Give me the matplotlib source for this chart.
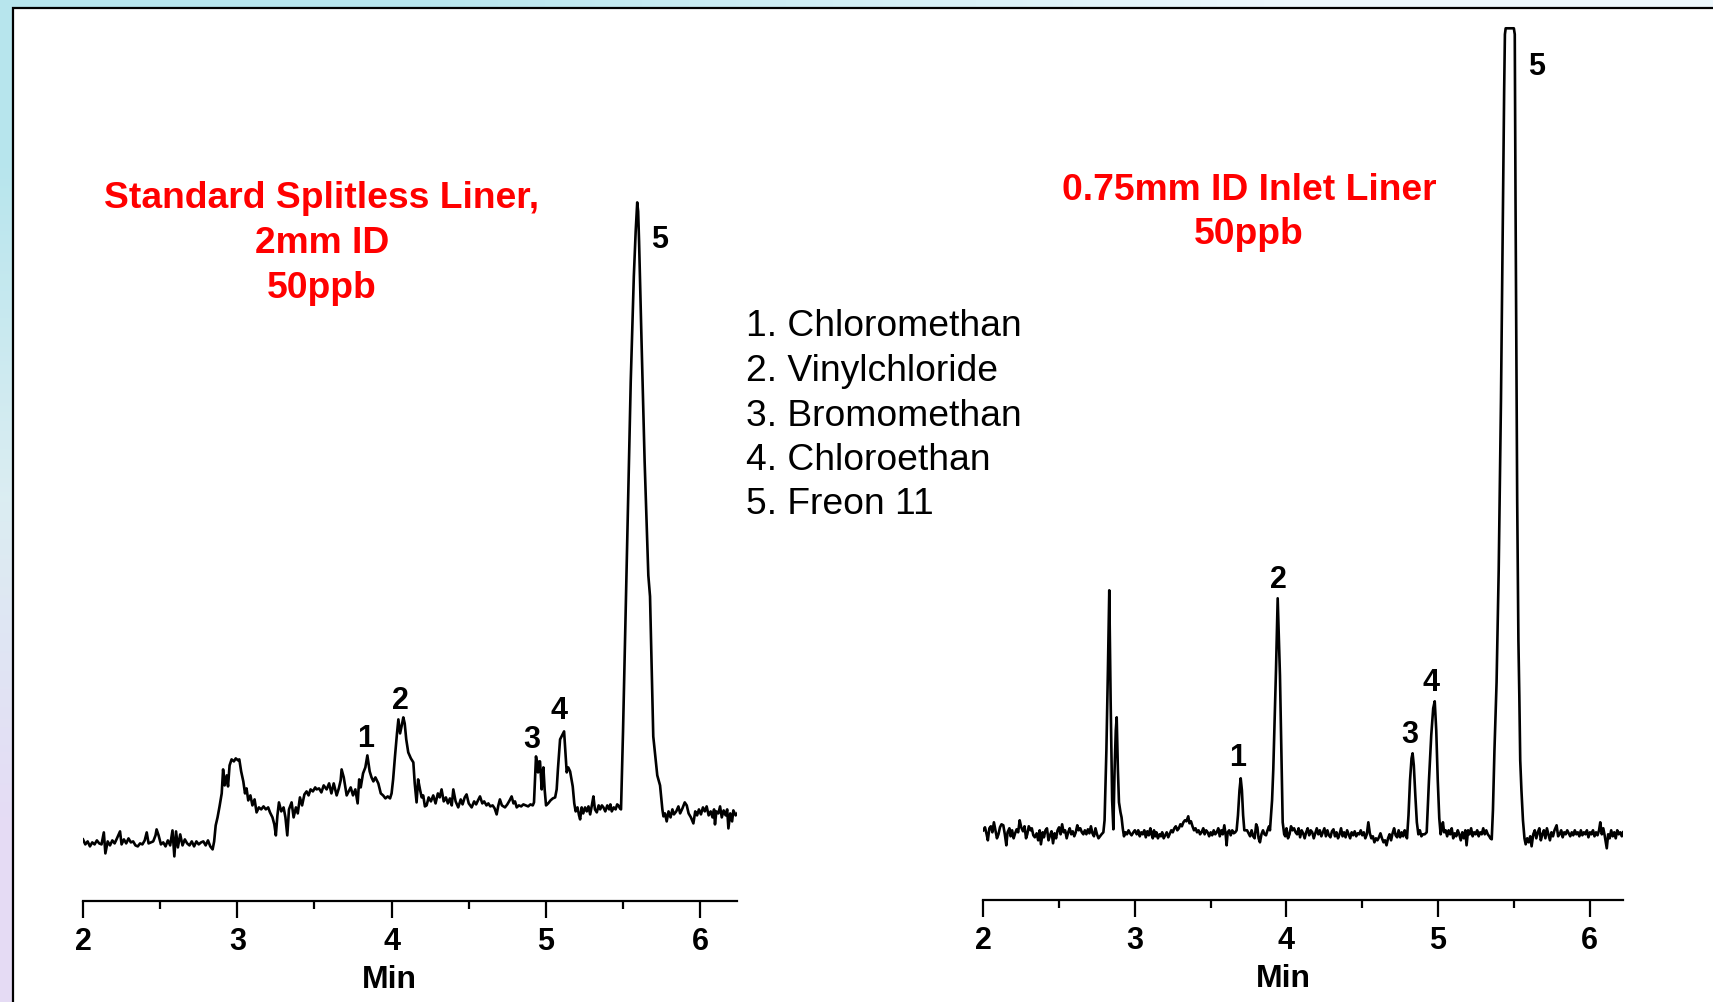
import numpy as np
import matplotlib
matplotlib.use("Agg")
import matplotlib.pyplot as plt
from matplotlib import font_manager
from matplotlib.patches import Rectangle

# ---- data (time in min, detector signal in arbitrary units) ----
left_time = [
    2.000, 2.015, 2.030, 2.045, 2.060, 2.075, 2.090, 2.105, 2.120, 2.135, 2.145, 2.160, 2.175, 2.190,
    2.205, 2.220, 2.240, 2.250, 2.265, 2.280, 2.295, 2.310, 2.325, 2.340, 2.355, 2.370, 2.385, 2.400,
    2.413, 2.425, 2.440, 2.455, 2.470, 2.477, 2.490, 2.505, 2.520, 2.535, 2.550, 2.565, 2.580, 2.592,
    2.603, 2.615, 2.630, 2.645, 2.660, 2.675, 2.690, 2.705, 2.720, 2.735, 2.750, 2.765, 2.780, 2.795,
    2.810, 2.825, 2.840, 2.850, 2.860, 2.872, 2.885, 2.899, 2.908, 2.918, 2.931, 2.940, 2.950, 2.963,
    2.978, 2.990, 3.005, 3.013, 3.025, 3.039, 3.050, 3.060, 3.071, 3.085, 3.098, 3.112, 3.125, 3.140,
    3.155, 3.170, 3.185, 3.200, 3.212, 3.228, 3.240, 3.250, 3.260, 3.270, 3.285, 3.300, 3.312, 3.324,
    3.335, 3.352, 3.365, 3.380, 3.392, 3.406, 3.420, 3.435, 3.449, 3.462, 3.475, 3.490, 3.505, 3.514,
    3.530, 3.545, 3.560, 3.579, 3.595, 3.610, 3.625, 3.644, 3.658, 3.670, 3.676, 3.690, 3.709, 3.722,
    3.735, 3.750, 3.765, 3.780, 3.790, 3.800, 3.815, 3.830, 3.843, 3.858, 3.870, 3.882, 3.895, 3.914,
    3.930, 3.945, 3.960, 3.975, 3.990, 4.000, 4.010, 4.022, 4.035, 4.044, 4.055, 4.066, 4.076, 4.085,
    4.095, 4.108, 4.125, 4.141, 4.150, 4.162, 4.172, 4.184, 4.195, 4.205, 4.216, 4.227, 4.240, 4.255,
    4.270, 4.285, 4.300, 4.312, 4.324, 4.338, 4.352, 4.365, 4.378, 4.390, 4.400, 4.415, 4.432, 4.448,
    4.460, 4.474, 4.486, 4.500, 4.519, 4.535, 4.548, 4.560, 4.573, 4.588, 4.600, 4.615, 4.627, 4.640,
    4.655, 4.668, 4.681, 4.692, 4.702, 4.715, 4.735, 4.750, 4.765, 4.778, 4.790, 4.800, 4.811, 4.825,
    4.840, 4.854, 4.870, 4.885, 4.900, 4.915, 4.923, 4.930, 4.936, 4.943, 4.949, 4.956, 4.962, 4.968,
    4.973, 4.978, 4.984, 4.992, 5.001, 5.015, 5.030, 5.045, 5.060, 5.070, 5.078, 5.092, 5.105, 5.118,
    5.126, 5.135, 5.145, 5.157, 5.166, 5.174, 5.184, 5.193, 5.205, 5.215, 5.222, 5.232, 5.242, 5.254,
    5.265, 5.276, 5.287, 5.298, 5.308, 5.318, 5.330, 5.342, 5.352, 5.363, 5.373, 5.385, 5.398, 5.410,
    5.418, 5.427, 5.440, 5.452, 5.462, 5.470, 5.480, 5.487, 5.500, 5.525, 5.550, 5.570, 5.582, 5.592,
    5.598, 5.604, 5.620, 5.640, 5.664, 5.675, 5.696, 5.722, 5.740, 5.755, 5.762, 5.772, 5.783, 5.795,
    5.808, 5.820, 5.830, 5.845, 5.859, 5.870, 5.885, 5.900, 5.913, 5.925, 5.940, 5.956, 5.968, 5.980,
    5.992, 6.005, 6.018, 6.030, 6.042, 6.055, 6.068, 6.080, 6.090, 6.096, 6.105, 6.118, 6.129, 6.140,
    6.152, 6.165, 6.175, 6.183, 6.195, 6.207, 6.215, 6.230, 6.240,
]
left_signal = [
    62, 57, 60, 55, 59, 57, 61, 58, 57, 69, 48, 60, 56, 61,
    58, 63, 70, 57, 62, 58, 63, 59, 60, 56, 55, 58, 57, 61,
    69, 58, 59, 60, 66, 72, 66, 57, 59, 55, 61, 56, 71, 45,
    70, 54, 67, 56, 62, 58, 56, 60, 55, 60, 57, 59, 60, 56,
    61, 55, 52, 60, 76, 84, 95, 108, 132, 116, 126, 115, 136, 142,
    140, 143, 141, 142, 130, 120, 108, 113, 101, 106, 96, 102, 89, 94,
    92, 95, 92, 94, 89, 84, 77, 66, 86, 99, 90, 94, 84, 66,
    92, 99, 84, 94, 88, 104, 96, 107, 110, 106, 112, 110, 114, 112,
    113, 109, 116, 112, 118, 108, 118, 106, 113, 121, 132, 124, 106, 110,
    114, 106, 112, 98, 122, 114, 128, 134, 146, 130, 124, 120, 124, 118,
    108, 106, 103, 105, 103, 108, 122, 145, 168, 182, 168, 176, 184, 178,
    162, 149, 143, 139, 118, 99, 122, 112, 104, 106, 95, 96, 104, 100,
    106, 98, 108, 104, 112, 100, 104, 98, 103, 96, 112, 100, 94, 102,
    97, 104, 107, 98, 94, 100, 97, 101, 105, 98, 100, 96, 98, 95,
    96, 93, 87, 96, 102, 96, 94, 97, 101, 105, 98, 100, 94, 96,
    95, 97, 96, 95, 97, 96, 99, 125, 145, 138, 129, 140, 140, 124,
    112, 128, 134, 112, 96, 98, 101, 103, 104, 112, 132, 162, 166, 170,
    150, 129, 134, 130, 122, 115, 98, 90, 94, 86, 82, 94, 88, 94,
    90, 95, 87, 96, 105, 92, 89, 96, 92, 96, 94, 90, 96, 92,
    97, 90, 94, 92, 97, 96, 93, 92, 170, 345, 520, 625, 670, 699,
    690, 660, 560, 440, 326, 305, 165, 126, 116, 92, 85, 88, 80, 90,
    84, 92, 87, 90, 95, 88, 93, 99, 96, 88, 84, 78, 90, 86,
    92, 87, 94, 90, 95, 86, 90, 84, 92, 77, 90, 88, 95, 84,
    91, 86, 92, 73, 88, 80, 91, 86, 88,
]

right_time = [
    2.000, 2.011, 2.022, 2.030, 2.040, 2.050, 2.060, 2.070, 2.080, 2.090, 2.100, 2.110, 2.120, 2.132,
    2.142, 2.152, 2.160, 2.172, 2.180, 2.190, 2.200, 2.210, 2.220, 2.230, 2.240, 2.250, 2.262, 2.272,
    2.282, 2.290, 2.300, 2.312, 2.320, 2.330, 2.340, 2.352, 2.362, 2.372, 2.380, 2.392, 2.400, 2.410,
    2.420, 2.430, 2.440, 2.450, 2.460, 2.470, 2.480, 2.490, 2.500, 2.510, 2.520, 2.530, 2.540, 2.550,
    2.560, 2.570, 2.580, 2.590, 2.600, 2.610, 2.620, 2.630, 2.640, 2.650, 2.660, 2.670, 2.680, 2.690,
    2.700, 2.710, 2.720, 2.730, 2.740, 2.750, 2.760, 2.770, 2.780, 2.792, 2.800, 2.812, 2.822, 2.831,
    2.840, 2.850, 2.858, 2.866, 2.874, 2.880, 2.888, 2.895, 2.905, 2.912, 2.920, 2.928, 2.938, 2.948,
    2.958, 2.968, 2.978, 2.990, 3.000, 3.012, 3.022, 3.032, 3.042, 3.052, 3.062, 3.072, 3.082, 3.092,
    3.102, 3.110, 3.118, 3.126, 3.134, 3.142, 3.152, 3.162, 3.172, 3.180, 3.190, 3.200, 3.210, 3.220,
    3.231, 3.240, 3.250, 3.260, 3.270, 3.280, 3.290, 3.300, 3.310, 3.320, 3.330, 3.340, 3.352, 3.360,
    3.370, 3.380, 3.390, 3.400, 3.410, 3.420, 3.430, 3.440, 3.451, 3.460, 3.470, 3.480, 3.490, 3.500,
    3.510, 3.520, 3.530, 3.540, 3.550, 3.560, 3.570, 3.580, 3.590, 3.600, 3.605, 3.612, 3.622, 3.632,
    3.642, 3.652, 3.662, 3.671, 3.680, 3.690, 3.698, 3.706, 3.714, 3.722, 3.730, 3.740, 3.750, 3.760,
    3.770, 3.780, 3.790, 3.800, 3.808, 3.816, 3.825, 3.835, 3.845, 3.855, 3.865, 3.875, 3.885, 3.891,
    3.905, 3.913, 3.931, 3.942, 3.957, 3.966, 3.975, 3.985, 3.992, 4.000, 4.010, 4.020, 4.030, 4.040,
    4.050, 4.060, 4.070, 4.080, 4.090, 4.100, 4.110, 4.120, 4.130, 4.140, 4.150, 4.160, 4.170, 4.180,
    4.190, 4.200, 4.210, 4.220, 4.230, 4.240, 4.250, 4.260, 4.270, 4.280, 4.290, 4.300, 4.310, 4.320,
    4.330, 4.340, 4.350, 4.360, 4.370, 4.380, 4.390, 4.400, 4.410, 4.420, 4.430, 4.440, 4.450, 4.460,
    4.470, 4.480, 4.490, 4.500, 4.510, 4.520, 4.530, 4.540, 4.550, 4.560, 4.570, 4.580, 4.590, 4.600,
    4.610, 4.620, 4.630, 4.640, 4.650, 4.660, 4.670, 4.680, 4.690, 4.700, 4.710, 4.720, 4.730, 4.740,
    4.750, 4.760, 4.770, 4.780, 4.788, 4.795, 4.805, 4.815, 4.825, 4.832, 4.840, 4.850, 4.860, 4.870,
    4.880, 4.890, 4.900, 4.912, 4.925, 4.940, 4.955, 4.968, 4.978, 4.988, 4.998, 5.008, 5.017, 5.025,
    5.032, 5.040, 5.050, 5.060, 5.070, 5.080, 5.090, 5.100, 5.110, 5.120, 5.130, 5.140, 5.150, 5.160,
    5.170, 5.180, 5.188, 5.198, 5.208, 5.218, 5.228, 5.238, 5.248, 5.258, 5.268, 5.278, 5.288, 5.298,
    5.308, 5.318, 5.328, 5.338, 5.345, 5.354, 5.362, 5.372, 5.386, 5.400, 5.415, 5.428, 5.436, 5.441,
    5.446, 5.500, 5.506, 5.511, 5.516, 5.522, 5.530, 5.536, 5.542, 5.550, 5.560, 5.570, 5.578, 5.588,
    5.598, 5.608, 5.617, 5.628, 5.638, 5.648, 5.658, 5.668, 5.678, 5.688, 5.698, 5.708, 5.718, 5.728,
    5.738, 5.748, 5.758, 5.768, 5.782, 5.792, 5.802, 5.812, 5.822, 5.832, 5.842, 5.852, 5.862, 5.872,
    5.882, 5.892, 5.902, 5.912, 5.922, 5.932, 5.942, 5.952, 5.962, 5.972, 5.982, 5.992, 6.002, 6.012,
    6.022, 6.032, 6.042, 6.052, 6.062, 6.070, 6.080, 6.090, 6.100, 6.113, 6.122, 6.132, 6.142, 6.152,
    6.162, 6.172, 6.182, 6.192, 6.202, 6.212, 6.220,
]
right_signal = [
    70, 73, 66, 60, 72, 74, 68, 78, 70, 62, 66, 73, 76, 75,
    66, 55, 68, 72, 64, 70, 62, 67, 71, 68, 80, 73, 69, 74,
    62, 66, 74, 70, 72, 65, 63, 67, 60, 70, 56, 68, 63, 70,
    72, 60, 65, 69, 57, 67, 62, 70, 73, 66, 76, 68, 70, 62,
    68, 72, 66, 69, 64, 68, 75, 70, 72, 68, 66, 70, 66, 71,
    67, 74, 67, 64, 72, 66, 62, 64, 66, 68, 80, 150, 230, 310,
    200, 100, 71, 130, 170, 183, 130, 98, 88, 83, 72, 64, 68, 66,
    70, 67, 65, 68, 70, 66, 70, 64, 68, 66, 70, 63, 69, 65,
    72, 66, 62, 70, 64, 68, 62, 66, 64, 68, 62, 65, 68, 63,
    67, 70, 68, 72, 74, 70, 72, 76, 74, 78, 80, 79, 84, 77,
    79, 74, 70, 72, 68, 70, 66, 68, 72, 66, 70, 68, 64, 68,
    65, 70, 66, 68, 72, 64, 70, 66, 75, 64, 55, 68, 70, 65,
    70, 67, 68, 70, 85, 110, 122, 110, 85, 70, 70, 70, 67, 64,
    70, 64, 62, 76, 73, 62, 58, 66, 70, 66, 65, 70, 74, 70,
    100, 131, 231, 302, 225, 150, 78, 66, 64, 72, 62, 66, 74, 70,
    72, 68, 66, 72, 63, 70, 67, 62, 68, 72, 65, 70, 68, 62,
    67, 72, 66, 70, 64, 68, 72, 64, 70, 65, 63, 69, 71, 64,
    68, 62, 66, 72, 64, 68, 63, 70, 66, 62, 68, 65, 69, 64,
    67, 66, 70, 65, 68, 62, 66, 78, 67, 62, 64, 58, 62, 60,
    63, 67, 62, 58, 60, 55, 62, 66, 60, 67, 72, 65, 63, 70,
    63, 68, 64, 70, 65, 62, 85, 120, 142, 147, 135, 105, 78, 66,
    70, 64, 66, 66, 68, 120, 165, 192, 199, 170, 120, 82, 66, 72,
    78, 68, 70, 64, 70, 66, 72, 62, 67, 64, 70, 66, 60, 68,
    62, 70, 55, 70, 66, 72, 64, 68, 66, 70, 64, 68, 66, 72,
    66, 70, 66, 64, 62, 61, 90, 150, 218, 330, 500, 690, 810, 866,
    872, 872, 866, 700, 560, 400, 260, 205, 140, 110, 80, 62, 56, 62,
    58, 64, 54, 66, 70, 62, 68, 72, 60, 66, 70, 62, 72, 66,
    60, 68, 64, 70, 75, 64, 66, 70, 63, 68, 66, 70, 67, 64,
    68, 65, 70, 66, 68, 64, 70, 65, 68, 66, 70, 63, 68, 66,
    70, 64, 68, 65, 70, 78, 66, 72, 64, 52, 66, 62, 70, 64,
    68, 62, 70, 66, 68, 64, 68,
]

peak_names = ["1", "2", "3", "4", "5"]
left_peak_time = [3.833, 4.060, 4.910, 5.087, 5.738]
left_peak_signal = [163, 201, 162, 191, 662]
right_peak_time = [3.675, 3.946, 4.811, 4.955, 5.647]
right_peak_signal = [143, 321, 166, 218, 834]

compounds = ["1. Chloromethan", "2. Vinylchloride", "3. Bromomethan", "4. Chloroethan", "5. Freon 11"]
left_title = ["Standard Splitless Liner,", "2mm ID", "50ppb"]
right_title = ["0.75mm ID Inlet Liner", "50ppb"]
major_ticks = [2, 3, 4, 5, 6]
minor_ticks = [2.5, 3.5, 4.5, 5.5]

# ---- fonts ----
installed = {f.name for f in font_manager.fontManager.ttflist}
narrow = "Liberation Sans Narrow" if "Liberation Sans Narrow" in installed else "Liberation Sans"
plt.rcParams["font.family"] = ["Liberation Sans", "DejaVu Sans"]

W, H = 1713, 1003
fig = plt.figure(figsize=(W / 100, H / 100), dpi=100)

# soft slide background visible at the left and top edges
bg = fig.add_axes([0, 0, 1, 1], zorder=-3)
bg.axis("off")
grad = np.array([
    [[0.72, 0.90, 0.93], [0.93, 0.97, 0.99]],
    [[0.86, 0.93, 0.95], [0.95, 0.98, 0.99]],
    [[0.90, 0.86, 0.96], [0.96, 0.96, 0.99]],
])
bg.imshow(grad, extent=[0, 1, 0, 1], aspect="auto", interpolation="bilinear")
bg.set_xlim(0, 1)
bg.set_ylim(0, 1)

# white panel with a black frame
panel = Rectangle((13 / W, -0.05), 1.2, 1.05 - 9 / H, transform=fig.transFigure,
                  facecolor="white", edgecolor="black", linewidth=1.6, zorder=-2)
fig.add_artist(panel)


def chromatogram(rect, x_end, t, y, peak_t, peak_y):
    ax = fig.add_axes(rect)
    ax.patch.set_visible(False)
    ax.plot(t, y, color="black", linewidth=1.9, solid_joinstyle="round")
    ax.set_xlim(2.0, x_end)
    ax.set_ylim(0, 882)
    for sp in ("left", "right", "top"):
        ax.spines[sp].set_visible(False)
    ax.spines["bottom"].set_linewidth(1.6)
    ax.set_yticks([])
    ax.set_xticks(major_ticks)
    ax.set_xticks(minor_ticks, minor=True)
    ax.tick_params(axis="x", which="major", direction="out", length=12, width=1.6, pad=6,
                   labelsize=22)
    ax.tick_params(axis="x", which="minor", direction="out", length=6, width=1.6)
    for lab in ax.get_xticklabels():
        lab.set_fontweight("bold")
        lab.set_family(narrow)
    ax.set_xlabel("Min", fontsize=23, fontweight="bold", family=narrow)
    ax.xaxis.set_label_coords(0.469, -0.088)
    ax.xaxis.label.set_va("center")
    for name, pt, py in zip(peak_names, peak_t, peak_y):
        ax.text(pt, py, name, ha="center", va="center", fontsize=22, fontweight="bold")
    return ax


ax_left = chromatogram([83 / W, 1 - 902.4 / H, (737.2 - 83) / W, 882 / H], 6.24,
                       left_time, left_signal, left_peak_time, left_peak_signal)
ax_right = chromatogram([983.3 / W, 1 - 901.3 / H, (1623 - 983.3) / W, 882 / H], 6.22,
                        right_time, right_signal, right_peak_time, right_peak_signal)

red = "#ff0000"
for i, line in enumerate(left_title):
    fig.text(322 / W, 1 - (208 + 45 * i) / H, line, ha="center", va="baseline",
             color=red, fontsize=26.8, fontweight="bold")
for i, line in enumerate(right_title):
    fig.text(1249 / W, 1 - (200 + 44 * i) / H, line, ha="center", va="baseline",
             color=red, fontsize=26.8, fontweight="bold")
for i, line in enumerate(compounds):
    fig.text(746 / W, 1 - (336.5 + 44.5 * i) / H, line, ha="left", va="baseline",
             color="black", fontsize=26.8)

fig.savefig("out.png", dpi=100)
